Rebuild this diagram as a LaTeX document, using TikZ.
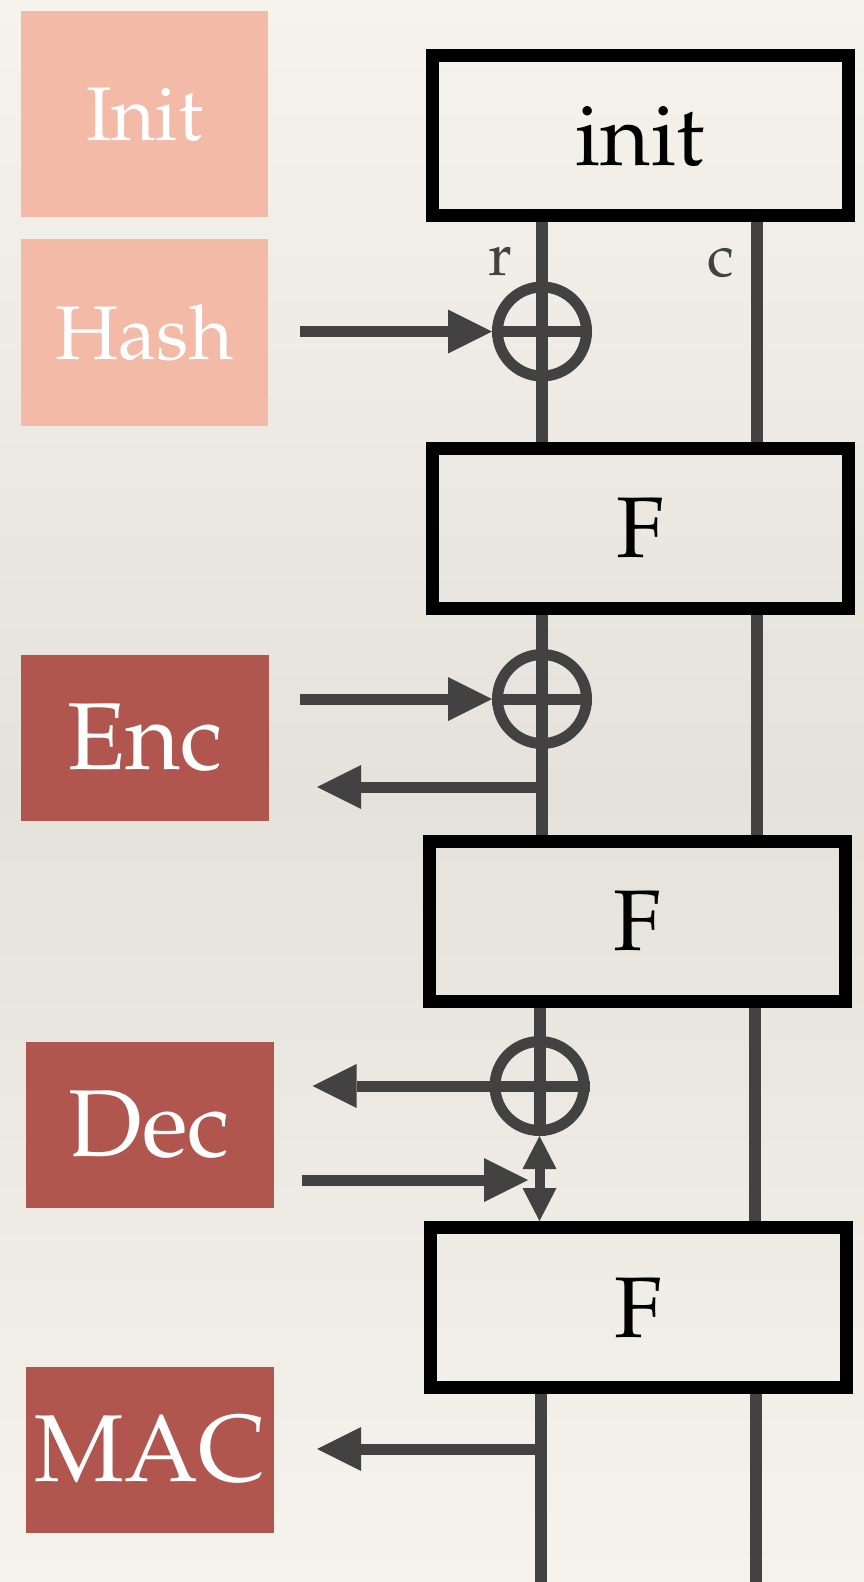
\documentclass[tikz,border=0pt]{standalone}
\usepackage[T1]{fontenc}
\usepackage{mathpazo}
\usepackage{xcolor}
\usepackage{tikz}
\usetikzlibrary{arrows}
\usetikzlibrary{arrows.meta}
\definecolor{paper}{RGB}{246,243,237}
\definecolor{papermid}{RGB}{229,226,220}
\definecolor{salmon}{RGB}{242,186,167}
\definecolor{brick}{RGB}{176,86,79}
\definecolor{wiregray}{RGB}{66,66,66}
\tikzset{
	light node/.style={rectangle,fill=salmon,text=white,inner sep=0pt,minimum width=247pt,font=\fontsize{76}{80}\selectfont},
	dark node/.style={rectangle,fill=brick,text=white,inner sep=0pt,minimum width=248pt,minimum height=166pt,font=\fontsize{95}{100}\selectfont},
	func node/.style={rectangle,draw=black,line width=13pt,inner sep=0pt,minimum width=416pt,minimum height=160pt,font=\fontsize{86}{90}\selectfont},
	xor node/.style={circle,draw=wiregray,line width=11pt,inner sep=0pt,minimum size=89pt},
	wire/.style={draw=wiregray,line width=12pt},
	io/.style={draw=wiregray,line width=11pt,-{Triangle[length=44pt,width=44pt,line width=0pt]}},
	both io/.style={draw=wiregray,line width=10pt,{Triangle[length=33pt,width=34pt,line width=0pt]}-{Triangle[length=33pt,width=34pt,line width=0pt]}},
	lane/.style={text=wiregray,font=\fontsize{60}{64}\selectfont,anchor=base}
}

\begin{document}
\begin{tikzpicture}[x=1pt,y=-1pt]
	\shade [top color=paper,bottom color=paper,middle color=papermid] (0,0) rectangle (864,1582);
	\useasboundingbox (0,0) rectangle (864,1582);
	\coordinate (bottom) at (0,1582);
	\node [light node,minimum height=206pt] (tInit) at (144.5,114) {Init};
	\node [light node,minimum height=187pt] (tHash) at (144.5,332.5) {Hash};
	\node [dark node] (tEnc) at (145,738) {Enc};
	\node [dark node] (tDec) at (149.5,1124.5) {Dec};
	\node [dark node] (tMAC) at (150,1450) {MAC};
	\node [func node] (init) at (640,135.5) {init};
	\node [func node] (F1) at (640,528) {F};
	\node [func node] (F2) at (637.5,921) {F};
	\node [func node] (F3) at (638.5,1307.5) {F};
	\node [xor node] (x1) at (542,331.5) {};
	\node [xor node] (x2) at (542,699) {};
	\node [xor node] (x3) at (539.5,1086) {};
	\node [lane] (r) at (500,275) {r};
	\node [lane] (c) at (721,276) {c};
	\draw [wire] ([xshift=-98pt]init.south) -- ([xshift=-98pt]init.south |- F1.north);
	\draw [wire] ([xshift=117pt]init.south) -- ([xshift=117pt]init.south |- F1.north);
	\draw [wire] ([xshift=-98pt]F1.south) -- ([xshift=-98pt]F1.south |- F2.north);
	\draw [wire] ([xshift=117pt]F1.south) -- ([xshift=117pt]F1.south |- F2.north);
	\draw [wire] ([xshift=-98pt]F2.south) -- ([xshift=-98pt]F2.south |- x3.north);
	\draw [wire] ([xshift=117pt]F2.south) -- ([xshift=117pt]F2.south |- F3.north);
	\draw [wire] ([xshift=-98pt]F3.south) -- ([xshift=-98pt]F3.south |- bottom);
	\draw [wire] ([xshift=117pt]F3.south) -- ([xshift=117pt]F3.south |- bottom);
	\draw [wire,line width=11pt] (x1.west) -- (x1.east);
	\draw [wire,line width=11pt] (x2.west) -- (x2.east);
	\draw [wire,line width=11pt] (x3.west) -- (x3.east);
	\draw [wire] (x3.north) -- (x3.south);
	\draw [io] ([xshift=32pt]tHash.east |- x1.west) -- (x1.west);
	\draw [io] ([xshift=31pt]tEnc.east |- x2.west) -- (x2.west);
	\coordinate (o1) at (542,787);
	\draw [io] (o1) -- ([xshift=48pt]tEnc.east |- o1);
	\draw [io] (x3.west) -- ([xshift=39pt]tDec.east |- x3.west);
	\coordinate (d1) at (528,1180);
	\draw [io] ([xshift=28pt]tDec.east |- d1) -- (d1);
	\draw [both io] (x3.south) -- (x3.south |- F3.north);
	\coordinate (o2) at (540.5,1449);
	\draw [io] (o2) -- ([xshift=43pt]tMAC.east |- o2);
\end{tikzpicture}
\end{document}
